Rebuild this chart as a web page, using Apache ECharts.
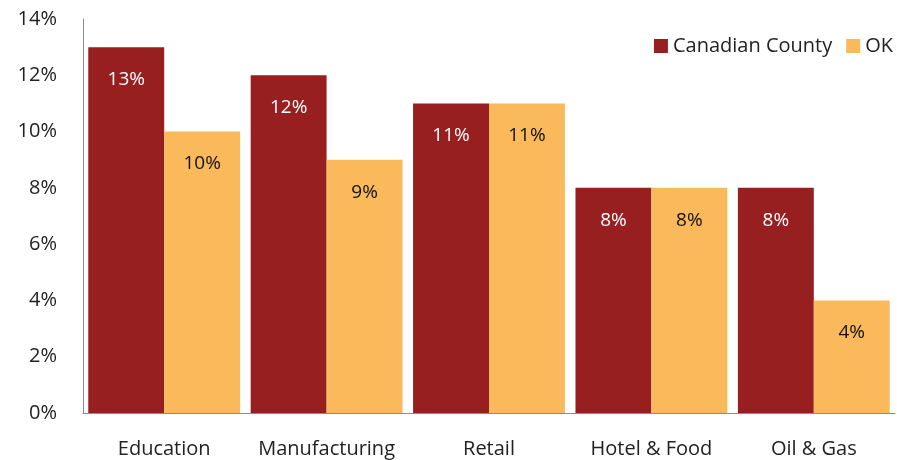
<!DOCTYPE html>
<html>
<head>
<meta charset="utf-8">
<script src="https://cdn.jsdelivr.net/npm/echarts@6/dist/echarts.min.js"></script>
<style>html,body{margin:0;padding:0;background:#fff;}#c{width:897px;height:460px;}</style>
</head>
<body>
<div id="c"></div>
<script>
const categories = ['Education', 'Manufacturing', 'Retail', 'Hotel & Food', 'Oil & Gas'];
const canadianCounty = [13, 12, 11, 8, 8];
const ok = [10, 9, 11, 8, 4];
const yTicks = [0, 2, 4, 6, 8, 10, 12, 14];

const font = '"Open Sans", Lato, sans-serif';
const chart = echarts.init(document.getElementById('c'));
chart.setOption({
  animation: false,
  backgroundColor: '#fff',
  textStyle: { fontFamily: font },
  legend: {
    right: 2, top: 31,
    itemWidth: 14, itemHeight: 14, itemGap: 14, padding: [5, 2, 5, 5],
    icon: 'rect',
    textStyle: { fontSize: 20, color: '#222', fontFamily: font },
    data: ['Canadian County', 'OK']
  },
  grid: { left: 83, right: 2, top: 19, bottom: 47 },
  xAxis: {
    type: 'category',
    data: categories,
    axisLine: { lineStyle: { color: '#8c8c8c', width: 1 } },
    axisTick: { show: false },
    axisLabel: { interval: 0, fontSize: 20, color: '#222', margin: 26, fontFamily: font }
  },
  yAxis: {
    type: 'value',
    min: yTicks[0], max: yTicks[yTicks.length - 1], interval: 2,
    splitLine: { show: false },
    axisLine: { show: true, lineStyle: { color: '#8c8c8c', width: 1 } },
    axisTick: { show: false },
    axisLabel: { fontSize: 20, color: '#222', margin: 26, formatter: '{value}%', fontFamily: font }
  },
  series: [
    {
      name: 'Canadian County', type: 'bar', data: canadianCounty,
      barGap: '0%', barCategoryGap: '6.5%',
      itemStyle: { color: '#971F20' },
      label: { show: true, position: 'insideTop', distance: 23, formatter: '{c}%', color: '#fff', fontSize: 19, fontFamily: font }
    },
    {
      name: 'OK', type: 'bar', data: ok,
      barGap: '0%', barCategoryGap: '6.5%',
      itemStyle: { color: '#FAB95B' },
      label: { show: true, position: 'insideTop', distance: 23, formatter: '{c}%', color: '#111', fontSize: 19, fontFamily: font }
    }
  ]
});
</script>
</body>
</html>
